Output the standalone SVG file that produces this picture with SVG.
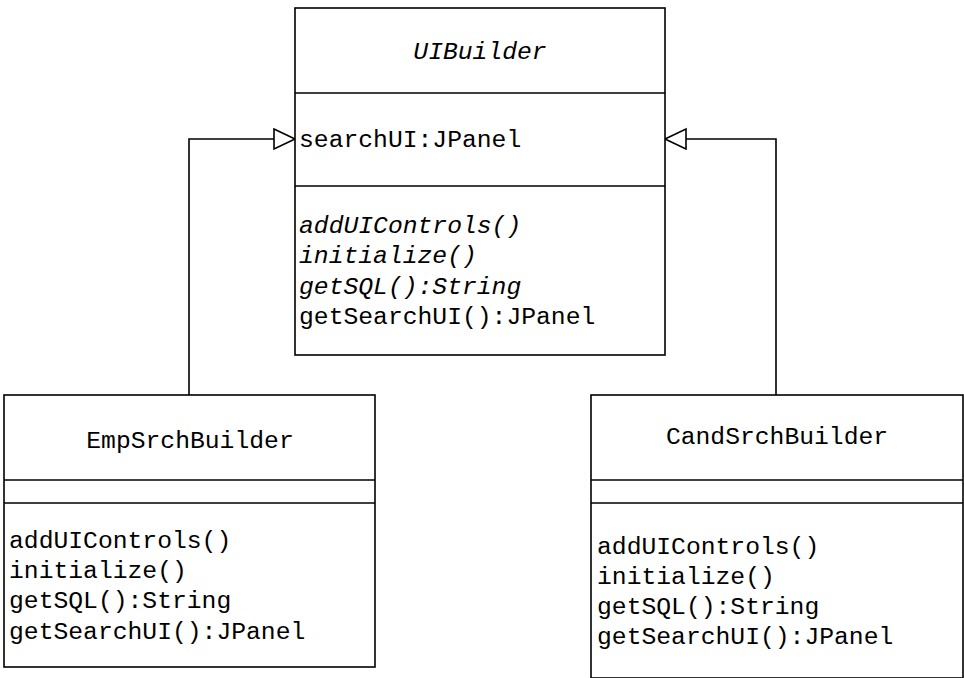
<svg xmlns="http://www.w3.org/2000/svg" width="964" height="678" viewBox="0 0 964 678">
<style>
.box{fill:#fff;stroke:#000;stroke-width:1.6}
.ln{stroke:#000;stroke-width:1.6;fill:none}
text{font-family:"Liberation Mono","Courier New",monospace;font-size:24.7px;fill:#000}
.it{font-style:italic}
.c{text-anchor:middle}
</style>
<defs>
<marker id="gen" markerWidth="24" markerHeight="24" refX="22" refY="11" orient="auto" markerUnits="userSpaceOnUse">
<path d="M1,1 L22,11 L1,21 Z" fill="#fff" stroke="#000" stroke-width="1.6"/>
</marker>
</defs>
<g id="connectors">
<path class="ln" d="M189,395 V139 H295" marker-end="url(#gen)"/>
<path class="ln" d="M776,395 V139 H665" marker-end="url(#gen)"/>
</g>
<g id="UIBuilder">
<rect class="box" x="295" y="8" width="370" height="347"/>
<line class="ln" x1="295" y1="93" x2="665" y2="93"/>
<line class="ln" x1="295" y1="186" x2="665" y2="186"/>
<text class="it c" x="480" y="59">UIBuilder</text>
<text x="299" y="147">searchUI:JPanel</text>
<text class="it" x="299" y="233">addUIControls()</text>
<text class="it" x="299" y="263">initialize()</text>
<text class="it" x="299" y="294">getSQL():String</text>
<text x="299" y="324">getSearchUI():JPanel</text>
</g>
<g id="EmpSrchBuilder">
<rect class="box" x="4" y="395" width="371" height="272"/>
<line class="ln" x1="4" y1="480" x2="375" y2="480"/>
<line class="ln" x1="4" y1="503" x2="375" y2="503"/>
<text class="c" x="190" y="448">EmpSrchBuilder</text>
<text x="9" y="548">addUIControls()</text>
<text x="9" y="578">initialize()</text>
<text x="9" y="608">getSQL():String</text>
<text x="9" y="639">getSearchUI():JPanel</text>
</g>
<g id="CandSrchBuilder">
<rect class="box" x="591" y="395" width="372" height="283"/>
<line class="ln" x1="591" y1="480" x2="963" y2="480"/>
<line class="ln" x1="591" y1="503" x2="963" y2="503"/>
<text class="c" x="777" y="444">CandSrchBuilder</text>
<text x="597" y="554">addUIControls()</text>
<text x="597" y="584">initialize()</text>
<text x="597" y="614">getSQL():String</text>
<text x="597" y="644">getSearchUI():JPanel</text>
</g>
</svg>
